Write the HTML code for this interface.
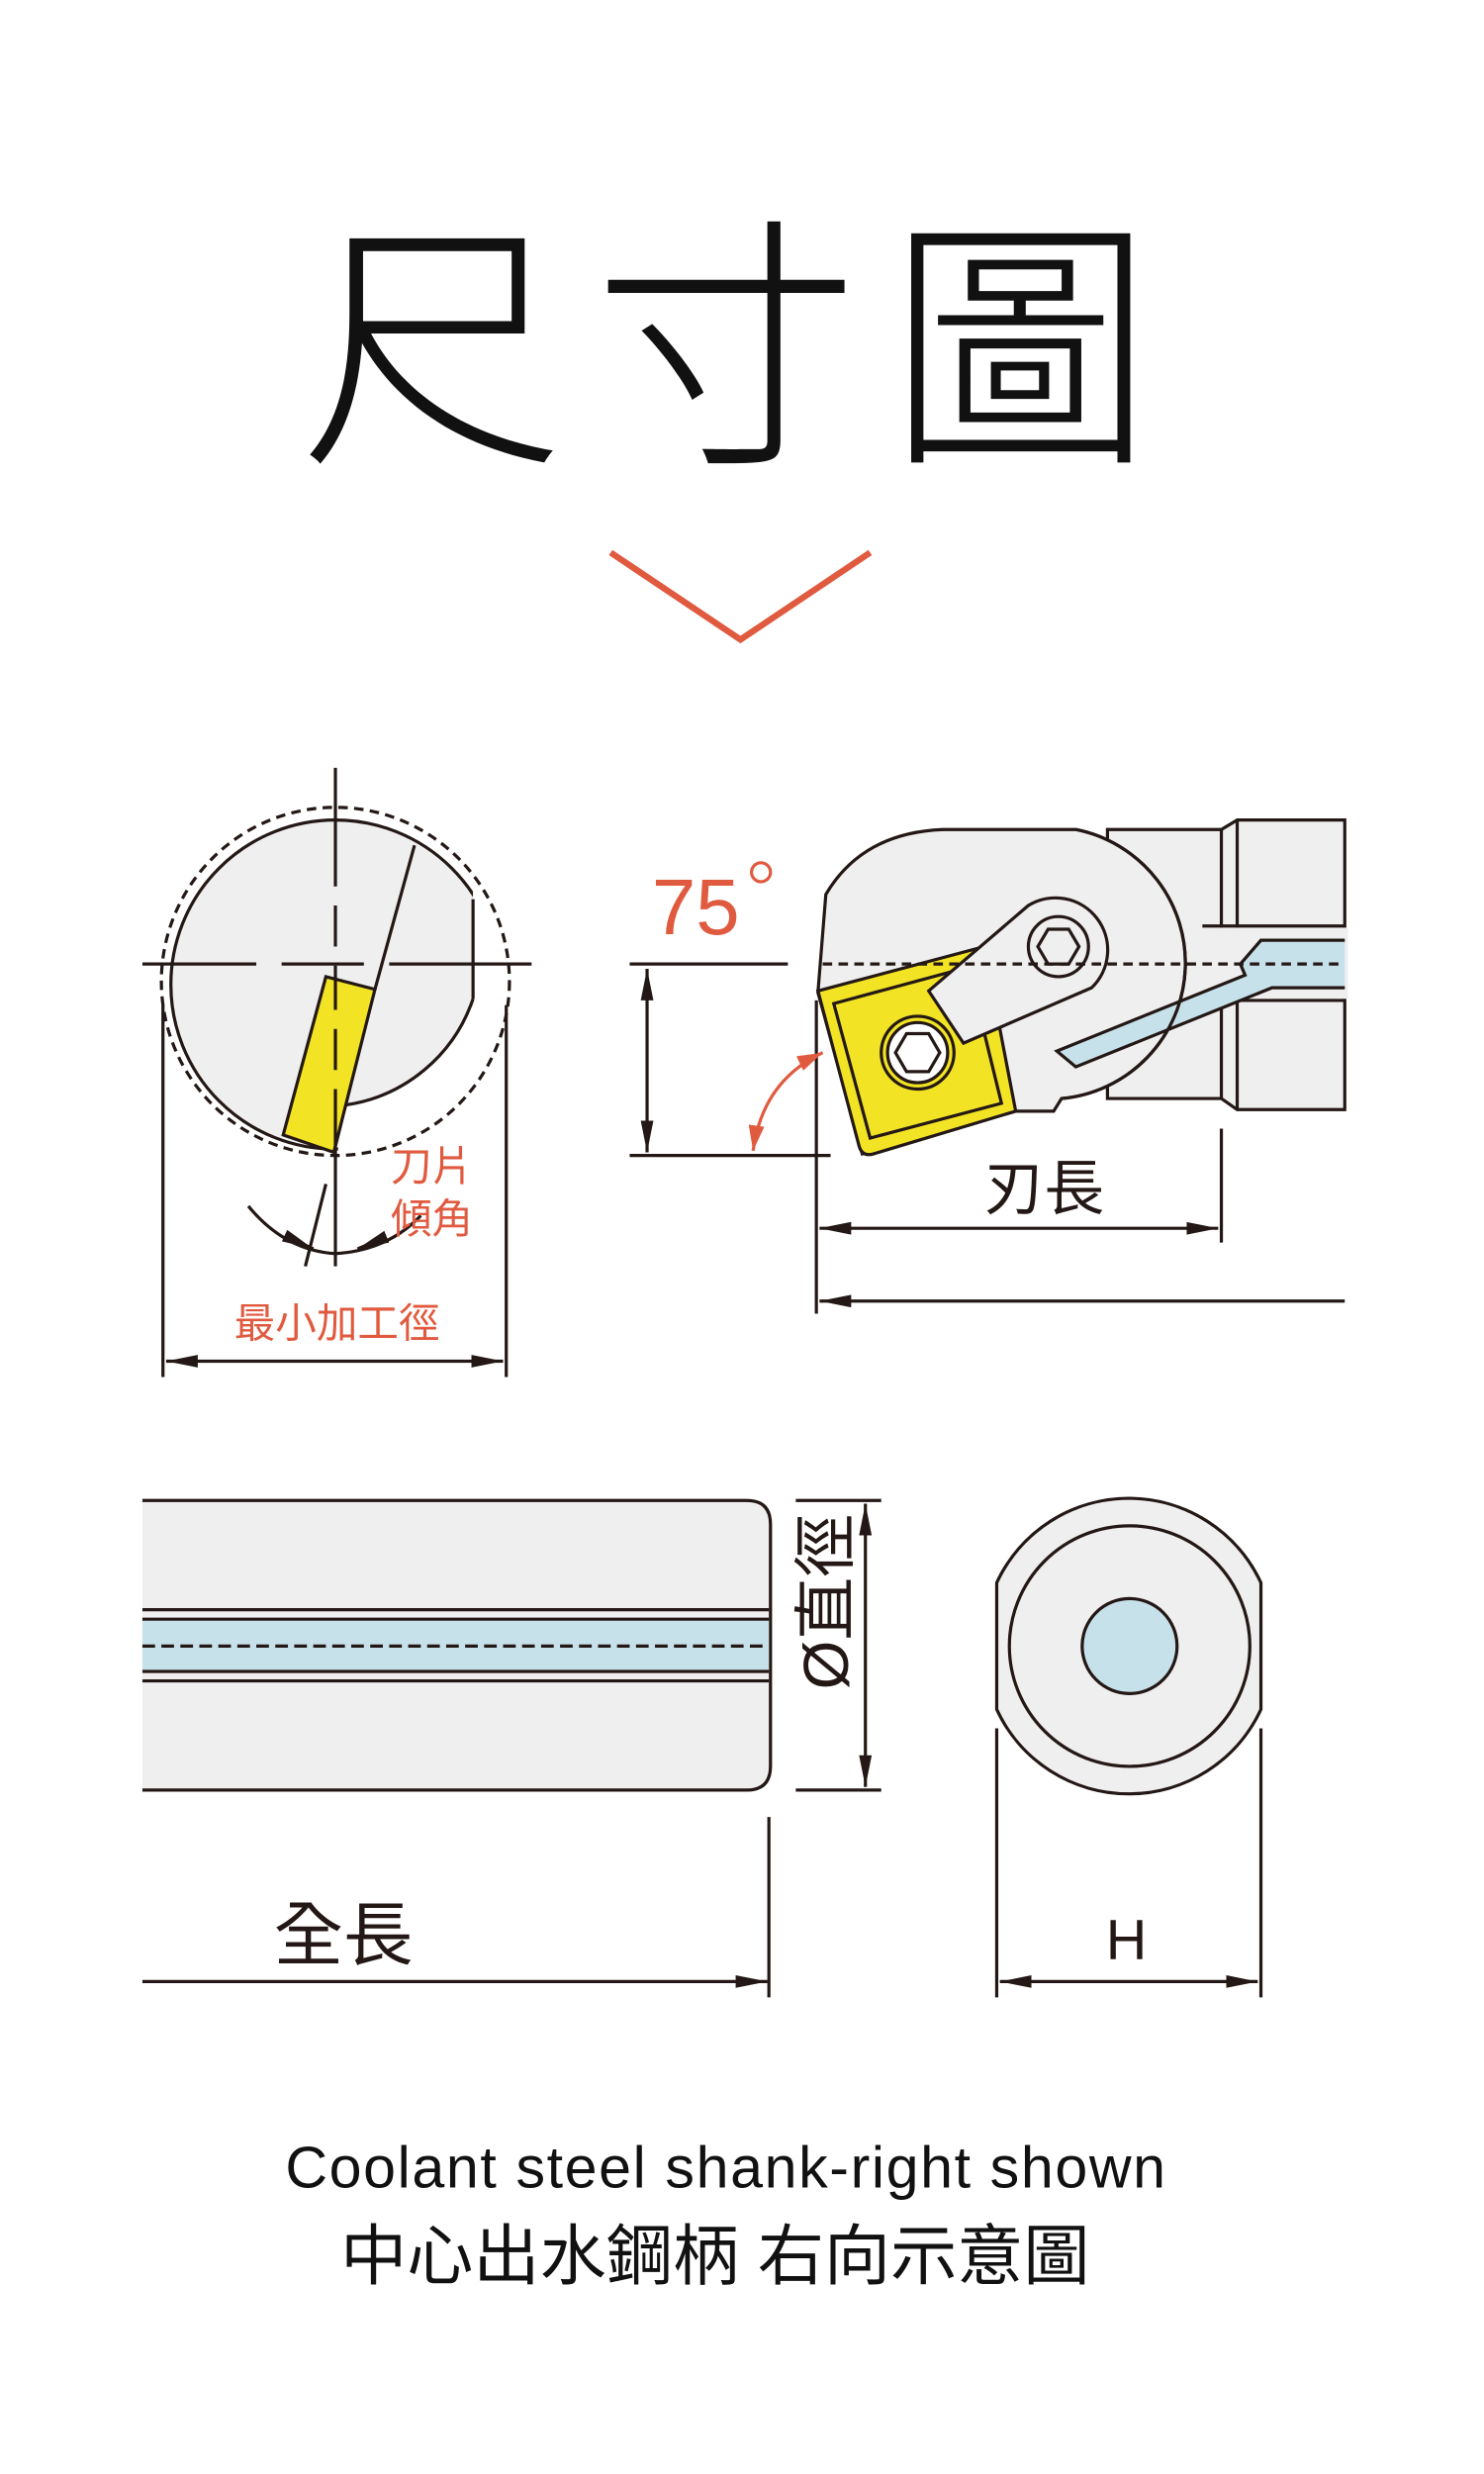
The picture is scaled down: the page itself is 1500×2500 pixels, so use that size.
<!DOCTYPE html>
<html><head><meta charset="utf-8"><style>
html,body{margin:0;padding:0;background:#fff;}
svg{display:block;}
text{font-family:"Liberation Sans","Noto Sans CJK TC",sans-serif;}
</style></head><body>
<svg width="1500" height="2500" viewBox="0 0 938 1563" xmlns="http://www.w3.org/2000/svg">
<defs>
<marker id="a" viewBox="0 0 20 10" refX="20" refY="5" markerWidth="20" markerHeight="10" markerUnits="userSpaceOnUse" orient="auto-start-reverse"><path d="M0,1 L20,5 L0,9 Z" fill="#231815"/></marker>
<marker id="r" viewBox="0 0 16 10" refX="16" refY="5" markerWidth="16" markerHeight="10" markerUnits="userSpaceOnUse" orient="auto-start-reverse"><path d="M0,0 L16,5 L0,10 Z" fill="#e05a3f"/></marker>
<clipPath id="cc"><path d="M0,0 H299 V631 A100,100 0 0 1 219,698 L211,740 V800 H0 Z"/></clipPath>
</defs>
<rect width="938" height="1563" fill="#fff"/>
<!-- title -->
<text x="468" y="280" font-size="168" text-anchor="middle" fill="#111" font-family="'Noto Sans CJK TC','Noto Sans CJK SC',sans-serif" font-weight="300" letter-spacing="18">尺寸圖</text>
<polyline points="386,349 468,404 550,349" fill="none" stroke="#e05a3f" stroke-width="4"/>

<g stroke="#231815" stroke-width="2" fill="none">
<!-- circle diagram -->
<circle cx="212" cy="622" r="104" fill="#efefef" clip-path="url(#cc)"/>
<path d="M299,631 A100,100 0 0 1 219,698 L237,625 L262,534 A104,104 0 0 1 299,570 Z" fill="#efefef" stroke="none"/>
<line x1="299" y1="568" x2="299" y2="631"/>
<path d="M299,631 A100,100 0 0 1 219,698"/>
<line x1="262" y1="534" x2="237" y2="625"/>
<path d="M179,717 L206,617 L237,625 L211,728 Z" fill="#f2e324"/>
<circle cx="212" cy="620" r="110" stroke-dasharray="6,4"/>
<line x1="212" y1="485" x2="212" y2="800" stroke-dasharray="75,12,26,12,28,12,26,12,200"/>
<line x1="90" y1="609" x2="336" y2="609" stroke-dasharray="72,16,52,16,200"/>
<line x1="103" y1="635" x2="103" y2="870"/>
<line x1="320" y1="635" x2="320" y2="870"/>
<line x1="105" y1="860" x2="318" y2="860" marker-start="url(#a)" marker-end="url(#a)"/>
<line x1="206" y1="748" x2="193" y2="800"/>
<path d="M157,762 Q180,790 212,792 Q245,790 266,768"/>
<line x1="185" y1="783" x2="198" y2="789" marker-end="url(#a)"/>
<line x1="238" y1="784" x2="226" y2="789" marker-end="url(#a)"/>
</g>
<text x="273" y="746" font-size="26" fill="#e05a3f" text-anchor="middle">刀片</text>
<text x="273" y="779" font-size="26" fill="#e05a3f" text-anchor="middle">傾角</text>
<text x="213" y="845" font-size="26" fill="#e05a3f" text-anchor="middle">最小加工徑</text>

<!-- tool top view -->
<g stroke="#231815" stroke-width="2">
<path d="M700,524 L772,524 L782,518 L850,518 L850,701 L782,701 L772,694 L700,694 Z" fill="#efefef"/>
<line x1="772" y1="524" x2="772" y2="694"/>
<line x1="782" y1="518" x2="782" y2="701"/>
<rect x="760" y="586" width="92" height="45" fill="#efefef" stroke="none"/>
<line x1="760" y1="585" x2="850" y2="585"/>
<line x1="760" y1="632" x2="850" y2="632"/>
<path d="M522,565 Q545,526 596,524 L680,524 A86,86 0 0 1 671,694 L666,702 L642,702 L545,729 L517,627 Z" fill="#efefef"/>
<path d="M668,664 L787,616 L784,609 L797,594 L850,594 L850,624 L804,624 L680,674 Z" fill="#c7e1ea" stroke="none"/>
<path d="M850,594 L797,594 L784,609 L787,616 L668,664 L680,674 L804,624 L850,624" fill="none"/>
<path d="M680,524 A86,86 0 0 1 671,694" fill="none"/>
<path d="M517,626 L622,598 L642,702 L552,729 Q545,731 543,724 Z" fill="#f2e324"/>
<path d="M527,634 L612,611 L633,697 L550,719 Z" fill="none"/>
<circle cx="580" cy="665" r="23" fill="#f2e324"/>
<circle cx="580" cy="665" r="19" fill="#fff"/>
<polygon points="594,665 587,677 573,677 566,665 573,653 587,653" fill="#fff"/>
<path d="M587,626 L650,572 A33,33 0 0 1 690,624 L609,659 Z" fill="#efefef"/>
<circle cx="669" cy="598" r="19" fill="none"/>
<polygon points="682,598 675.5,609 662.5,609 656,598 662.5,587 675.5,587" fill="none"/>
<line x1="520" y1="609" x2="850" y2="609" stroke-dasharray="6,4"/>
<line x1="398" y1="609" x2="498" y2="609"/>
<line x1="398" y1="730" x2="525" y2="730"/>
<line x1="409" y1="612" x2="409" y2="728" marker-start="url(#a)" marker-end="url(#a)"/>
<line x1="516" y1="632" x2="516" y2="830"/>
<line x1="772" y1="713" x2="772" y2="785"/>
<line x1="518" y1="776" x2="770" y2="776" marker-start="url(#a)" marker-end="url(#a)"/>
<line x1="518" y1="822" x2="850" y2="822" marker-start="url(#a)"/>
</g>
<path d="M476,727 Q482,683 520,665" fill="none" stroke="#e05a3f" stroke-width="2" marker-start="url(#r)" marker-end="url(#r)"/>
<text x="412" y="590" font-size="50" fill="#e05a3f">75</text>
<circle cx="481" cy="551" r="6" fill="none" stroke="#e05a3f" stroke-width="2"/>
<text x="660" y="764" font-size="38" fill="#231815" text-anchor="middle">刃長</text>

<!-- side view -->
<g stroke="#231815" stroke-width="2">
<path d="M90,948 L472,948 Q487,948 487,963 L487,1116 Q487,1131 472,1131 L90,1131" fill="#efefef"/>
<rect x="90" y="1024" width="396" height="31" fill="#c7e1ea" stroke="none"/>
<line x1="90" y1="1017" x2="486" y2="1017"/>
<line x1="90" y1="1023" x2="486" y2="1023"/>
<line x1="90" y1="1056" x2="486" y2="1056"/>
<line x1="90" y1="1062" x2="486" y2="1062"/>
<line x1="90" y1="1040" x2="486" y2="1040" stroke-dasharray="8,4"/>
<line x1="503" y1="948" x2="557" y2="948"/>
<line x1="503" y1="1131" x2="557" y2="1131"/>
<line x1="547" y1="950" x2="547" y2="1129" marker-start="url(#a)" marker-end="url(#a)"/>
<line x1="486" y1="1148" x2="486" y2="1262"/>
<line x1="90" y1="1252" x2="485" y2="1252" marker-end="url(#a)"/>
<!-- end view -->
<path d="M630,1000 A92,92 0 0 1 797,1000 L797,1080 A92,92 0 0 1 630,1080 Z" fill="#efefef"/>
<circle cx="714" cy="1040" r="76" fill="#efefef"/>
<circle cx="714" cy="1040" r="30" fill="#c7e1ea"/>
<line x1="630" y1="1092" x2="630" y2="1262"/>
<line x1="797" y1="1092" x2="797" y2="1262"/>
<line x1="632" y1="1252" x2="795" y2="1252" marker-start="url(#a)" marker-end="url(#a)"/>
</g>
<text transform="translate(536,1012) rotate(-90)" font-size="40" fill="#231815" text-anchor="middle">Ø直徑</text>
<text x="217" y="1238" font-size="44" fill="#231815" text-anchor="middle">全長</text>
<text x="712" y="1238" font-size="36" fill="#231815" text-anchor="middle">H</text>

<text x="459" y="1382" font-size="37" fill="#111" text-anchor="middle" letter-spacing="1">Coolant steel shank-right shown</text>
<text x="452" y="1440" font-size="42" fill="#111" text-anchor="middle">中心出水鋼柄 右向示意圖</text>
</svg>
</body></html>
